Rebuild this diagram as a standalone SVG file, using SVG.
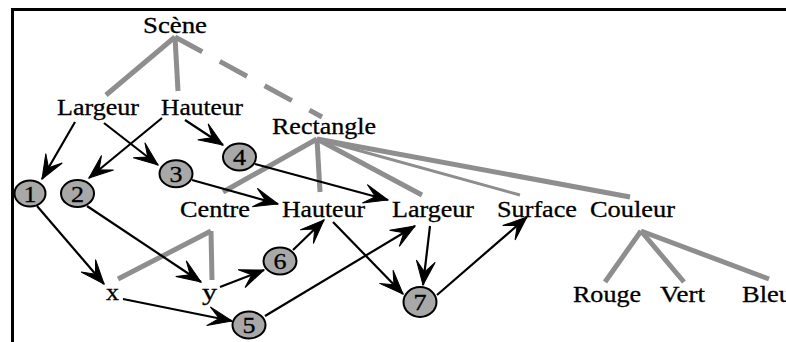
<svg xmlns="http://www.w3.org/2000/svg" width="786" height="342" viewBox="0 0 786 342">
<style>
text{font-family:"Liberation Serif","Times New Roman",Times,serif;font-size:22.5px;fill:#000;stroke:#000;stroke-width:0.3}
.num{text-anchor:middle}
.tree{stroke:#8e8e8e;stroke-width:5;fill:none;stroke-linecap:butt}
.thin{stroke-width:3}
.arr{stroke:#000;stroke-width:2.2;fill:none;marker-end:url(#ah)}
.bub{fill:#a8a8a8;stroke:#000;stroke-width:2}
.frame{stroke:#000;stroke-width:3;fill:none}
</style>
<defs>
<marker id="ah" markerUnits="userSpaceOnUse" viewBox="-26 -11 28 22" markerWidth="28" markerHeight="22" refX="0" refY="0" orient="auto" overflow="visible">
<path d="M0,0 L-24,-9.5 L-13,0 L-24,9.5 Z" fill="#000" stroke="#000" stroke-width="1" stroke-linejoin="miter"/>
</marker>
</defs>
<rect width="786" height="342" fill="#fff"/>
<path class="frame" d="M12.5,342 V9.5 H786"/>
<g id="connectors">
<line class="tree" x1="175" y1="37" x2="106" y2="95"/>
<line class="tree" x1="175" y1="37" x2="178" y2="91"/>
<line class="tree" x1="175" y1="37" x2="322" y2="117" stroke-dasharray="31 20"/>
<line class="tree" x1="317" y1="139" x2="223" y2="192"/>
<line class="tree" x1="317" y1="139" x2="320" y2="192"/>
<line class="tree" x1="317" y1="139" x2="422" y2="195"/>
<line class="tree thin" x1="317" y1="139" x2="520" y2="195"/>
<line class="tree" x1="317" y1="139" x2="630" y2="197"/>
<line class="tree" x1="211" y1="231" x2="118" y2="279"/>
<line class="tree" x1="211" y1="231" x2="212" y2="280"/>
<line class="tree" x1="641" y1="231" x2="605" y2="282"/>
<line class="tree" x1="641" y1="231" x2="684" y2="282"/>
<line class="tree" x1="641" y1="231" x2="769" y2="279"/>
<line class="arr" x1="75" y1="122" x2="42" y2="179"/>
<line class="arr" x1="104" y1="123" x2="158" y2="165"/>
<line class="arr" x1="162" y1="118" x2="89" y2="178"/>
<line class="arr" x1="185" y1="120" x2="223" y2="145"/>
<line class="arr" x1="192" y1="180" x2="278" y2="204"/>
<line class="arr" x1="255" y1="164" x2="388" y2="200"/>
<line class="arr" x1="37" y1="206" x2="104" y2="284"/>
<line class="arr" x1="87" y1="206" x2="201" y2="282"/>
<line class="arr" x1="123" y1="299" x2="232" y2="321"/>
<line class="arr" x1="220" y1="287" x2="264" y2="270"/>
<line class="arr" x1="293" y1="250" x2="324" y2="220"/>
<line class="arr" x1="265" y1="316" x2="415" y2="226"/>
<line class="arr" x1="333" y1="222" x2="403" y2="294"/>
<line class="arr" x1="430" y1="226" x2="423" y2="285"/>
<line class="arr" x1="437" y1="295" x2="527" y2="217"/>
</g>
<g id="scene"><text x="143" y="33" textLength="64" lengthAdjust="spacingAndGlyphs">Scène</text></g>
<g id="largeur1"><text x="57" y="115" textLength="82" lengthAdjust="spacingAndGlyphs">Largeur</text></g>
<g id="hauteur1"><text x="161" y="115" textLength="82" lengthAdjust="spacingAndGlyphs">Hauteur</text></g>
<g id="rectangle"><text x="272" y="134" textLength="104" lengthAdjust="spacingAndGlyphs">Rectangle</text></g>
<g id="centre"><text x="180" y="217" textLength="70" lengthAdjust="spacingAndGlyphs">Centre</text></g>
<g id="hauteur2"><text x="282" y="217" textLength="83" lengthAdjust="spacingAndGlyphs">Hauteur</text></g>
<g id="largeur2"><text x="392" y="217" textLength="82" lengthAdjust="spacingAndGlyphs">Largeur</text></g>
<g id="surface"><text x="497" y="217" textLength="80" lengthAdjust="spacingAndGlyphs">Surface</text></g>
<g id="couleur"><text x="590" y="217" textLength="85" lengthAdjust="spacingAndGlyphs">Couleur</text></g>
<g id="x"><text x="106" y="300" textLength="13" lengthAdjust="spacingAndGlyphs">x</text></g>
<g id="y"><text x="202" y="300" textLength="15" lengthAdjust="spacingAndGlyphs">y</text></g>
<g id="rouge"><text x="573" y="302" textLength="68" lengthAdjust="spacingAndGlyphs">Rouge</text></g>
<g id="vert"><text x="660" y="302" textLength="45" lengthAdjust="spacingAndGlyphs">Vert</text></g>
<g id="bleu"><text x="742" y="302" textLength="50" lengthAdjust="spacingAndGlyphs">Bleu</text></g>
<g id="n1"><ellipse class="bub" cx="30" cy="193.5" rx="15.5" ry="13"/><text class="num" x="30" y="201.5" textLength="13" lengthAdjust="spacingAndGlyphs">1</text></g>
<g id="n2"><ellipse class="bub" cx="77.5" cy="193.5" rx="16.5" ry="13.5"/><text class="num" x="77.5" y="201.5" textLength="13" lengthAdjust="spacingAndGlyphs">2</text></g>
<g id="n3"><ellipse class="bub" cx="176" cy="173.7" rx="16.5" ry="13.5"/><text class="num" x="176" y="181.7" textLength="13" lengthAdjust="spacingAndGlyphs">3</text></g>
<g id="n4"><ellipse class="bub" cx="239.5" cy="157" rx="16.5" ry="13.5"/><text class="num" x="239.5" y="165" textLength="13" lengthAdjust="spacingAndGlyphs">4</text></g>
<g id="n5"><ellipse class="bub" cx="249" cy="325" rx="16.5" ry="13.5"/><text class="num" x="249" y="333" textLength="13" lengthAdjust="spacingAndGlyphs">5</text></g>
<g id="n6"><ellipse class="bub" cx="280" cy="261" rx="16.5" ry="13.5"/><text class="num" x="280" y="269" textLength="13" lengthAdjust="spacingAndGlyphs">6</text></g>
<g id="n7"><ellipse class="bub" cx="420" cy="302" rx="16.5" ry="15"/><text class="num" x="420" y="310" textLength="13" lengthAdjust="spacingAndGlyphs">7</text></g>
</svg>
